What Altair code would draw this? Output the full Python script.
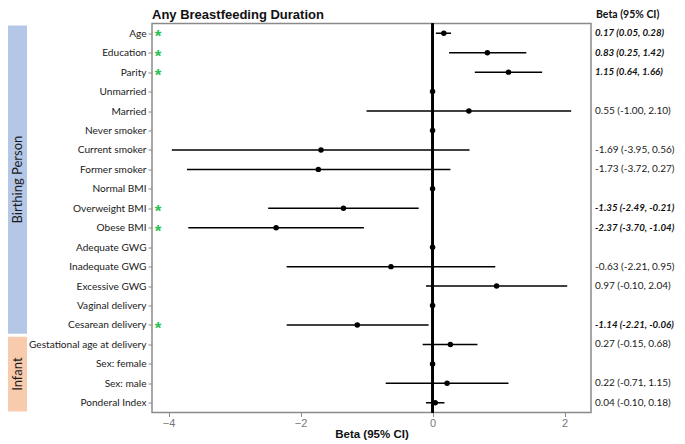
import json
import altair as alt
import pandas as pd

# ---- data ----
labels = [
    "Age", "Education", "Parity", "Unmarried", "Married", "Never smoker",
    "Current smoker", "Former smoker", "Normal BMI", "Overweight BMI",
    "Obese BMI", "Adequate GWG", "Inadequate GWG", "Excessive GWG",
    "Vaginal delivery", "Cesarean delivery", "Gestational age at delivery",
    "Sex: female", "Sex: male", "Ponderal Index",
]
beta = [0.17, 0.83, 1.15, 0, 0.55, 0, -1.69, -1.73, 0, -1.35, -2.37, 0,
        -0.63, 0.97, 0, -1.14, 0.27, 0, 0.22, 0.04]
ci_low = [0.05, 0.25, 0.64, None, -1.00, None, -3.95, -3.72, None, -2.49,
          -3.70, None, -2.21, -0.10, None, -2.21, -0.15, None, -0.71, -0.10]
ci_high = [0.28, 1.42, 1.66, None, 2.10, None, 0.56, 0.27, None, -0.21,
           -1.04, None, 0.95, 2.04, None, -0.06, 0.68, None, 1.15, 0.18]
significant = [True, True, True, False, False, False, False, False, False,
               True, True, False, False, False, False, True, False, False,
               False, False]
groups = ["Birthing Person", "Infant"]
group_first = [0, 16]
group_last = [15, 19]
group_colors = ["#b4c7e7", "#f8cbad"]
x_ticks = [-4, -2, 0, 2]
title_text = "Any Breastfeeding Duration"
col_header = "Beta (95% CI)"

# ---- layout ----
W, H = 439, 389
LEFT_PAD = 144
GREEN = "#2cc157"
LABEL_FONT = "Lato"
ARIAL = "Liberation Sans"

rows = pd.DataFrame({
    "row": list(range(len(labels))),
    "label": labels,
    "beta": beta,
    "lo": pd.Series(ci_low, dtype="float"),
    "hi": pd.Series(ci_high, dtype="float"),
    "sig": significant,
})
rows["text"] = [
    f"{b:.2f} ({l:.2f}, {h:.2f})" if pd.notna(l) else ""
    for b, l, h in zip(rows["beta"], rows["lo"], rows["hi"])
]
ci_rows = rows[rows["lo"].notna()]
sig_rows = rows[rows["sig"]]
txt_sig = rows[(rows["text"] != "") & rows["sig"]]
txt_plain = rows[(rows["text"] != "") & ~rows["sig"]]

bands = pd.DataFrame({
    "group": groups,
    "y0": [f - 0.4 for f in group_first],
    "y1": [l + 0.45 for l in group_last],
})
bands["ymid"] = (bands["y0"] + bands["y1"]) / 2

label_expr = "[" + ",".join(json.dumps(l) for l in labels) + "][datum.value]"

yscale = alt.Scale(domain=[-0.5, len(labels) - 0.5], reverse=True, nice=False, zero=False)
xscale = alt.Scale(domain=[-4.25, 2.40], nice=False, zero=False)

x_axis = alt.Axis(
    values=x_ticks, grid=False, domain=False, tickColor="#8a8a8a", tickSize=4,
    labelColor="#777777", labelFont=ARIAL, labelFontSize=11, labelPadding=1,
    title="Beta (95% CI)", titleFont=ARIAL, titleFontSize=11.5, titleFontWeight="bold",
    titleColor="#111111", titlePadding=0,
)
y_axis = alt.Axis(
    values=list(range(len(labels))), labelExpr=label_expr, grid=False, domain=False,
    tickColor="#8a8a8a", tickSize=4, labelPadding=2, labelFont=LABEL_FONT,
    labelFontSize=10.1, labelColor="#1a1a1a", title=None,
)

def Y(field):
    return alt.Y(field, scale=yscale, axis=y_axis)

def X(field):
    return alt.X(field, scale=xscale, axis=x_axis)

band_rect = alt.Chart(bands).mark_rect().encode(
    x=alt.value(-LEFT_PAD), x2=alt.value(-LEFT_PAD + 19),
    y=Y("y0:Q"), y2="y1:Q",
    color=alt.Color("group:N", scale=alt.Scale(domain=groups, range=group_colors), legend=None),
)
band_text = alt.Chart(bands).mark_text(
    angle=270, font=LABEL_FONT, fontSize=13, color="#1a1a1a", baseline="middle", align="center",
).encode(
    x=alt.value(-LEFT_PAD + 9.5), y=Y("ymid:Q"), text="group:N",
)

zero_line = alt.Chart(rows).mark_rule(color="black", strokeWidth=1.4).encode(
    x=alt.X(datum=0, scale=xscale, axis=x_axis),
)
ci_bars = alt.Chart(ci_rows).mark_rule(color="black", strokeWidth=1.5).encode(
    x=X("lo:Q"), x2="hi:Q", y=Y("row:Q"),
)
points = alt.Chart(rows).mark_circle(color="black", size=30, opacity=1).encode(
    x=X("beta:Q"), y=Y("row:Q"),
)
stars = alt.Chart(sig_rows).mark_text(
    text="*", color=GREEN, fontSize=17, font=ARIAL, fontWeight="bold", dy=4, align="center",
).encode(
    x=alt.value(6), y=Y("row:Q"),
)
col_plain = alt.Chart(txt_plain).mark_text(
    align="left", baseline="middle", font=LABEL_FONT, fontSize=10, color="#1a1a1a",
).encode(
    x=alt.value(W + 4), y=Y("row:Q"), text="text:N",
)
col_sig = alt.Chart(txt_sig).mark_text(
    align="left", baseline="middle", font=LABEL_FONT, fontSize=9.7, color="#111111",
    fontWeight="bold", fontStyle="italic",
).encode(
    x=alt.value(W + 4), y=Y("row:Q"), text="text:N",
)
header = alt.Chart(pd.DataFrame({"t": [col_header]})).mark_text(
    align="left", baseline="middle", font=LABEL_FONT, fontSize=10.5, fontWeight="bold", color="#111111",
).encode(x=alt.value(W + 5), y=alt.value(-9), text="t:N")
title = alt.Chart(pd.DataFrame({"t": [title_text]})).mark_text(
    align="left", baseline="alphabetic", font=ARIAL, fontSize=13, fontWeight="bold", color="#111111",
).encode(x=alt.value(0), y=alt.value(-4.5), text="t:N")

chart = alt.layer(
    band_rect, band_text, zero_line, ci_bars, points, stars, col_plain, col_sig, header, title,
).properties(
    width=W, height=H,
    autosize=alt.AutoSizeParams(type="none"),
    padding={"left": LEFT_PAD, "top": 15.5, "right": 86, "bottom": 28.5},
).configure_view(stroke="#8a8a8a", strokeWidth=1.5)

chart.save("out.html", embed_options={"renderer": "svg", "actions": False})
